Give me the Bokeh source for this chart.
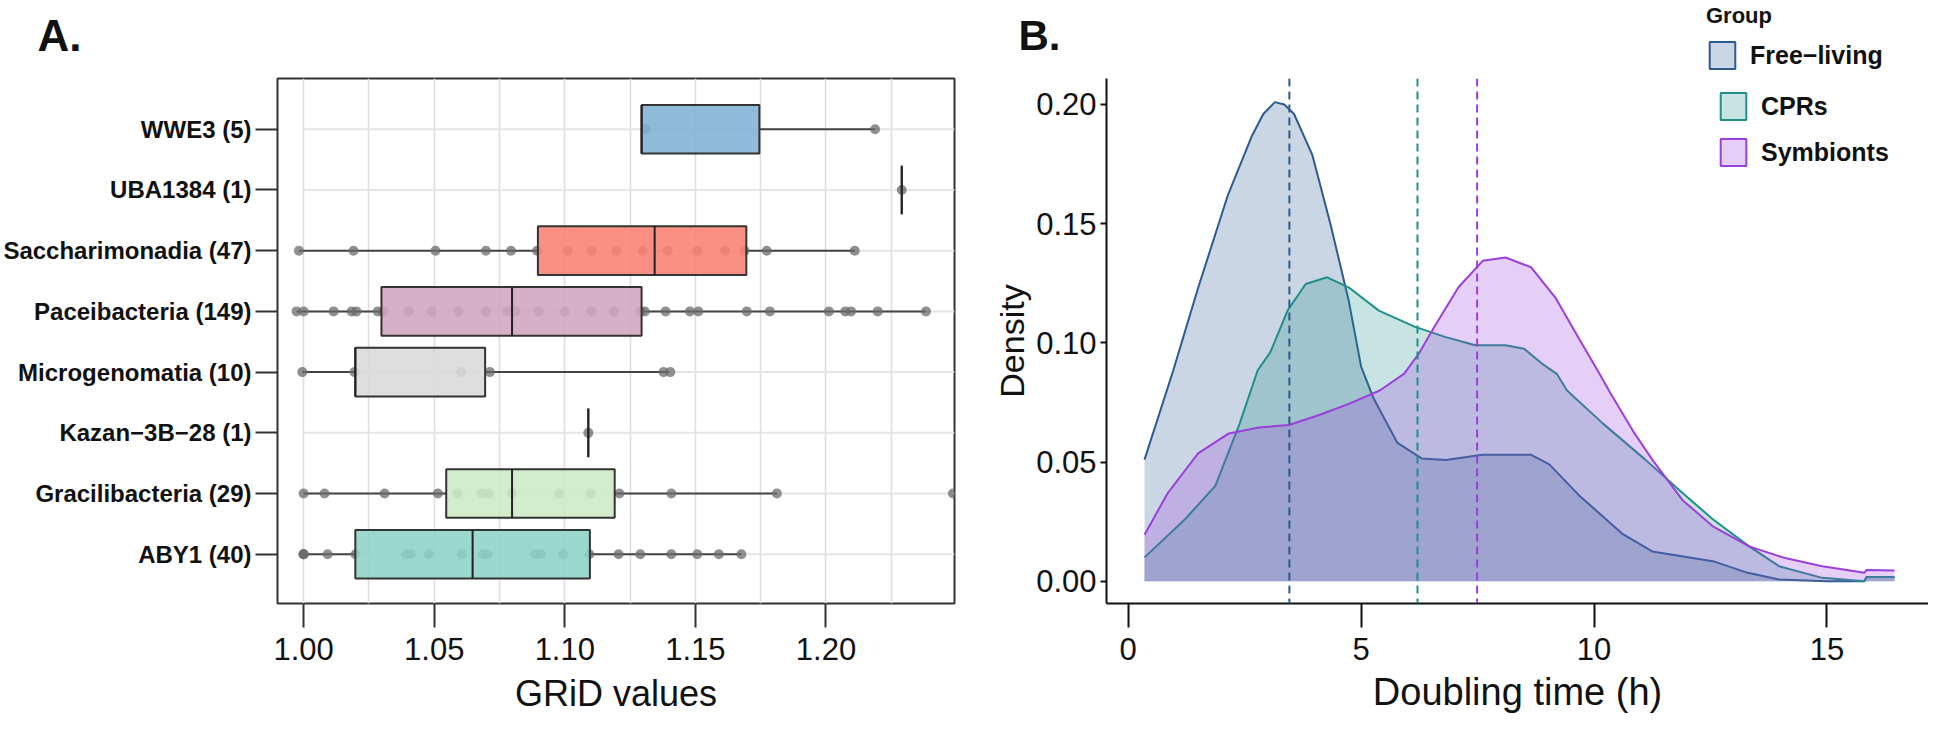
from bokeh.plotting import figure
from bokeh.layouts import row, column
from bokeh.models import (FixedTicker, NumeralTickFormatter, Range1d, Span, Label,
                          Legend, LegendItem)
from bokeh.embed import file_html
from bokeh.resources import INLINE

FONT = "Liberation Sans"

# ---------------- Panel A data (GRiD values) ----------------
categories = ["ABY1 (40)", "Gracilibacteria (29)", "Kazan\u22123B\u221228 (1)", "Microgenomatia (10)",
              "Paceibacteria (149)", "Saccharimonadia (47)", "UBA1384 (1)", "WWE3 (5)"]
box_colors = ["#8DD3C7", "#CCEBC5", "#BEBADA", "#D9D9D9", "#D0A5BE", "#FB8072", "#FFED6F", "#80B1D3"]
q1 = [1.0198, 1.0546, 1.109, 1.0198, 1.0298, 1.0897, 1.229, 1.1294]
med = [1.0647, 1.0798, 1.109, 1.0198, 1.0798, 1.1344, 1.229, 1.1294]
q3 = [1.1096, 1.1191, 1.109, 1.0695, 1.1294, 1.1695, 1.229, 1.1745]
whisk_lo = [1.0, 1.0, 1.109, 0.9995, 0.9973, 0.9982, 1.229, 1.1294]
whisk_hi = [1.1676, 1.1812, 1.109, 1.1400, 1.2383, 1.2110, 1.229, 1.2188]

pts_aby1 = [1.0, 1.0, 1.0, 1.0092, 1.0199, 1.0394, 1.0411, 1.0479, 1.0606, 1.0686, 1.0704,
            1.0887, 1.0908, 1.0993, 1.1094, 1.1206, 1.1289, 1.1408, 1.1507, 1.1590, 1.1676]
pts_graci = [1.0, 1.008, 1.031, 1.0514, 1.0589, 1.0681, 1.0709, 1.0798, 1.0979, 1.1099,
             1.1209, 1.1408, 1.1812, 1.2486]
pts_kazan = [1.109]
pts_micro = [0.9995, 1.0195, 1.0603, 1.0713, 1.1378, 1.1404]
pts_pacei = [0.9973, 1.0, 1.0115, 1.0184, 1.0202, 1.0284, 1.0305, 1.0402, 1.0491, 1.0592,
             1.0698, 1.0780, 1.0810, 1.0899, 1.1000, 1.1103, 1.1188, 1.1289, 1.1306, 1.1386,
             1.1479, 1.1511, 1.1697, 1.1785, 1.2011, 1.2074, 1.2096, 1.2198, 1.2383]
pts_sacch = [0.9982, 1.0191, 1.0505, 1.0698, 1.0794, 1.0894, 1.1011, 1.1103, 1.1198, 1.1298,
             1.1394, 1.1507, 1.1613, 1.1688, 1.1773, 1.2110]
pts_uba = [1.229]
pts_wwe3 = [1.131, 1.2188]
points_by_cat = [pts_aby1, pts_graci, pts_kazan, pts_micro, pts_pacei, pts_sacch, pts_uba, pts_wwe3]
grid_x_ticks = [1.00, 1.05, 1.10, 1.15, 1.20]
grid_x_minor = [1.025, 1.075, 1.125, 1.175, 1.225]
a_x_lo, a_x_hi = 0.990, 1.2492

# ---------------- Panel B data (doubling time densities) ----------------
groups = ["Free\u2212living", "CPRs", "Symbionts"]
group_colors = ["#2d5a8f", "#1f8f8a", "#9b3fdc"]
fl_x = [0.35, 0.96, 1.5, 2.14, 2.66, 2.9, 3.15, 3.35, 3.56, 3.95, 4.34, 4.73, 5.0, 5.26, 5.78,
        6.3, 6.82, 7.6, 8.65, 9.04, 9.68, 10.6, 11.25, 12.55, 13.3, 13.97, 15.0, 15.8, 15.85, 16.45]
fl_y = [0.051, 0.088, 0.123, 0.162, 0.187, 0.196, 0.201, 0.200, 0.196, 0.179, 0.150, 0.118, 0.090,
        0.077, 0.058, 0.0515, 0.0508, 0.053, 0.053, 0.049, 0.036, 0.020, 0.0125, 0.0084, 0.0035,
        0.0007, 0.0, 0.0, 0.0018, 0.0018]
cpr_x = [0.35, 1.22, 1.87, 2.39, 2.78, 3.05, 3.42, 3.81, 4.27, 4.73, 5.38, 6.16, 6.8, 7.45, 8.1,
         8.5, 8.88, 9.2, 9.42, 10.2, 11.1, 11.9, 12.55, 13.33, 13.97, 14.9, 15.8, 15.85, 16.45]
cpr_y = [0.010, 0.026, 0.040, 0.066, 0.0885, 0.096, 0.1135, 0.1247, 0.1275, 0.1233, 0.1135,
         0.1067, 0.1025, 0.099, 0.099, 0.0975, 0.0913, 0.087, 0.080, 0.066, 0.051, 0.037, 0.026,
         0.0146, 0.0063, 0.0014, 0.0, 0.0018, 0.0018]
sym_x = [0.35, 0.85, 1.5, 2.16, 2.8, 3.45, 4.1, 4.75, 5.4, 5.92, 6.24, 6.57, 7.09, 7.61, 8.1,
         8.65, 9.17, 9.7, 10.09, 10.35, 10.87, 11.25, 11.9, 12.55, 13.33, 14.1, 14.9, 15.6, 15.8,
         15.85, 16.45]
sym_y = [0.0195, 0.037, 0.0536, 0.062, 0.0645, 0.0655, 0.0697, 0.0745, 0.080, 0.087, 0.0955,
         0.1066, 0.1233, 0.1344, 0.1358, 0.1317, 0.119, 0.101, 0.088, 0.079, 0.062, 0.051, 0.034,
         0.023, 0.0146, 0.0097, 0.0063, 0.0042, 0.0035, 0.0047, 0.0045]
medians_b = [3.46, 6.21, 7.49]
b_x_ticks = [0, 5, 10, 15]
b_y_ticks = [0.0, 0.05, 0.10, 0.15, 0.20]

W_A, W_B, H_TOP, H_ALL = 990, 938, 76, 727


def legend_keys(fig, cols, anchors):
    """hidden zero-size renderers that only provide the legend swatches"""
    out = []
    for col, m in zip(cols, anchors):
        q = fig.quad(left=[m], right=[m], top=[0], bottom=[0], fill_color=col, fill_alpha=0.25,
                     line_color=col, line_width=2)
        q.visible = False
        out.append([q])
    return out


def legend_style(**kw):
    return Legend(title_text_font=FONT, title_text_font_size="22px", title_text_font_style="bold",
                  title_text_color="#111111", title_standoff=9,
                  label_text_font=FONT, label_text_font_size="25px",
                  label_text_font_style="bold", label_text_color="#111111",
                  glyph_width=32, glyph_height=34, label_height=34, label_standoff=12,
                  spacing=12, padding=0, margin=0, border_line_color=None,
                  background_fill_alpha=0, click_policy="none", **kw)


# ======================= header strip (panel letters + legend title) =======================
head = figure(width=W_A + W_B, height=H_TOP, output_backend="svg", toolbar_location=None,
              x_range=Range1d(0, W_A + W_B), y_range=Range1d(0, H_TOP),
              x_axis_location=None, y_axis_location=None, min_border=0)
head.outline_line_color = None
head.grid.visible = False
head.add_layout(Label(x=37, y=41, text="A.", text_font=FONT, text_font_size="44px",
                      text_font_style="bold", text_color="#111111", text_baseline="alphabetic"))
head.add_layout(Label(x=1018, y=41, text="B.", text_font=FONT, text_font_size="42px",
                      text_font_style="bold", text_color="#111111", text_baseline="alphabetic"))

# ======================= Panel A =======================
pA = figure(width=W_A, height=H_ALL - H_TOP, output_backend="svg", toolbar_location=None,
            x_range=Range1d(a_x_lo, a_x_hi), y_range=Range1d(0.19, 8.835),
            min_border_left=276, min_border_right=36, min_border_top=2, min_border_bottom=124)
pA.outline_line_color = "#333333"
pA.outline_line_width = 2

pA.xaxis.ticker = FixedTicker(ticks=grid_x_ticks, minor_ticks=grid_x_minor)
pA.xaxis.formatter = NumeralTickFormatter(format="0.00")
pA.xgrid.ticker = FixedTicker(ticks=grid_x_ticks, minor_ticks=grid_x_minor)
pA.xgrid.grid_line_color = "#dedede"
pA.xgrid.grid_line_width = 1.6
pA.xgrid.minor_grid_line_color = "#dedede"
pA.xgrid.minor_grid_line_width = 1.6
pA.ygrid.visible = False

ypos = list(range(1, len(categories) + 1))
pA.yaxis.ticker = FixedTicker(ticks=ypos)
pA.yaxis.major_label_overrides = {i: c for i, c in zip(ypos, categories)}

for ax in (pA.xaxis[0], pA.yaxis[0]):
    ax.axis_line_color = None
    ax.major_tick_in = 0
    ax.minor_tick_in = 0
    ax.minor_tick_out = 0
    ax.major_tick_line_color = "#333333"
    ax.major_tick_line_width = 2
    ax.major_label_text_font = FONT
    ax.major_label_text_color = "#111111"
pA.xaxis.major_tick_out = 24
pA.xaxis.major_label_standoff = 10
pA.xaxis.major_label_text_font_size = "31px"
pA.xaxis.axis_label = "GRiD values"
pA.xaxis.axis_label_text_font = FONT
pA.xaxis.axis_label_text_font_size = "36px"
pA.xaxis.axis_label_text_font_style = "normal"
pA.xaxis.axis_label_text_color = "#111111"
pA.xaxis.axis_label_standoff = 10
pA.yaxis.major_tick_out = 22
pA.yaxis.major_label_standoff = 4
pA.yaxis.major_label_text_font_size = "24px"
pA.yaxis.major_label_text_font_style = "bold"

# horizontal row guides (start at the first major tick, as in the reference)
pA.segment(x0=[grid_x_ticks[0]] * len(ypos), y0=ypos, x1=[a_x_hi] * len(ypos), y1=ypos,
           line_color="#e5e5e5", line_width=2)
pA.segment(x0=whisk_lo, y0=ypos, x1=q1, y1=ypos, line_color="#444444", line_width=2)
pA.segment(x0=q3, y0=ypos, x1=whisk_hi, y1=ypos, line_color="#444444", line_width=2)
px, py = [], []
for yi, pts in zip(ypos, points_by_cat):
    px += pts
    py += [yi] * len(pts)
pA.scatter(x=px, y=py, size=10, fill_color="#6b6b6b", fill_alpha=0.75, line_color=None)
box_h = 0.8
pA.hbar(y=ypos, left=q1, right=q3, height=box_h, fill_color=box_colors, fill_alpha=0.88,
        line_color="#333333", line_width=2)
pA.segment(x0=med, y0=[y - box_h / 2 for y in ypos], x1=med, y1=[y + box_h / 2 for y in ypos],
           line_color="#222222", line_width=2)

# ======================= Panel B =======================
pB = figure(width=W_B, height=H_ALL - H_TOP, output_backend="svg", toolbar_location=None,
            x_range=Range1d(-0.466, 17.18), y_range=Range1d(-0.00936, 0.2109),
            min_border_left=105, min_border_right=0, min_border_top=0, min_border_bottom=124)
pB.outline_line_color = None
pB.grid.grid_line_color = None

series = [(fl_x, fl_y), (cpr_x, cpr_y), (sym_x, sym_y)]
for (xs, ys), col in zip(series, group_colors):
    pB.varea(x=xs, y1=[0] * len(xs), y2=ys, fill_color=col, fill_alpha=0.25)
    pB.line(x=xs, y=ys, line_color=col, line_width=2)

for m, col in zip(medians_b, group_colors):
    pB.add_layout(Span(location=m, dimension="height", line_color=col, line_width=2,
                       line_dash="8 5"))

pB.xaxis.ticker = FixedTicker(ticks=b_x_ticks)
pB.yaxis.ticker = FixedTicker(ticks=b_y_ticks)
pB.yaxis.formatter = NumeralTickFormatter(format="0.00")
for ax in (pB.xaxis[0], pB.yaxis[0]):
    ax.axis_line_color = "#111111"
    ax.axis_line_width = 2
    ax.major_tick_in = 0
    ax.minor_tick_in = 0
    ax.minor_tick_out = 0
    ax.major_tick_line_color = "#111111"
    ax.major_tick_line_width = 2
    ax.major_label_text_font = FONT
    ax.major_label_text_font_size = "31px"
    ax.major_label_text_color = "#111111"
    ax.axis_label_text_font = FONT
    ax.axis_label_text_font_style = "normal"
    ax.axis_label_text_color = "#111111"
pB.xaxis.major_tick_out = 24
pB.xaxis.major_label_standoff = 10
pB.xaxis.axis_label = "Doubling time (h)"
pB.xaxis.axis_label_text_font_size = "38px"
pB.xaxis.axis_label_standoff = 8
pB.yaxis.major_tick_out = 6
pB.yaxis.major_label_standoff = 4
pB.yaxis.axis_label = "Density"
pB.yaxis.axis_label_text_font_size = "34px"
pB.yaxis.axis_label_standoff = 2

# legend: title + first key sit in the header strip, the other keys inside panel B's frame
top_keys = legend_keys(head, group_colors[:1], [W_A + W_B / 2])
low_keys = legend_keys(pB, group_colors[1:], medians_b[1:])
head.add_layout(legend_style(items=[LegendItem(label=groups[0], renderers=top_keys[0])],
                             title="Group", location=(1706, 4)))
pB.add_layout(legend_style(items=[LegendItem(label=g, renderers=k)
                                  for g, k in zip(groups[1:], low_keys)],
                           location=(611, 434)))

layout = column(head, row(pA, pB))
open("out.html", "w").write(file_html(layout, INLINE))
